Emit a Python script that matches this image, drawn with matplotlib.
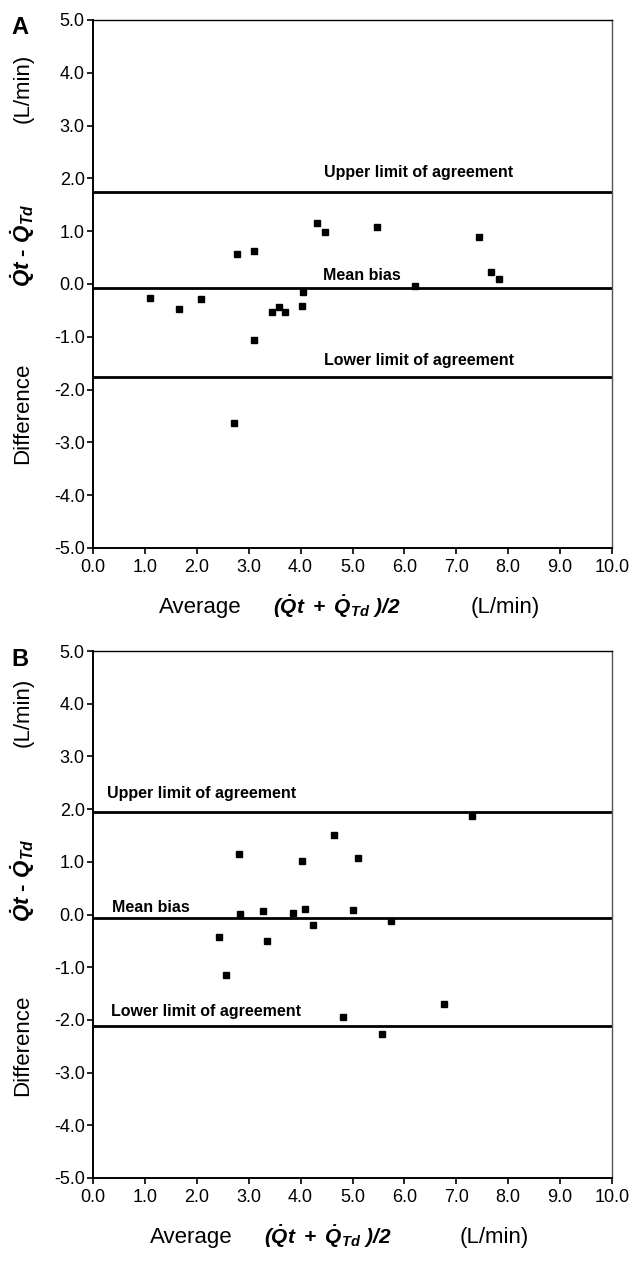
import matplotlib
matplotlib.use("Agg")
import matplotlib.pyplot as plt

plt.rcParams['font.family'] = ['Liberation Sans', 'DejaVu Sans']
plt.rcParams['mathtext.fontset'] = 'custom'
plt.rcParams['mathtext.bf'] = 'Liberation Sans:bold:italic'
plt.rcParams['mathtext.rm'] = 'Liberation Sans'
plt.rcParams['mathtext.it'] = 'Liberation Sans:italic'

# Panel A data (average vs difference, L/min)
a_avg = [1.10, 1.66, 2.09, 2.71, 2.77, 3.10, 3.11, 3.44, 3.59, 3.70,
         4.02, 4.04, 4.32, 4.47, 5.47, 6.21, 7.43, 7.66, 7.83]
a_diff = [-0.26, -0.47, -0.28, -2.63, 0.57, -1.06, 0.63, -0.53, -0.44, -0.53,
          -0.42, -0.15, 1.15, 0.98, 1.08, -0.03, 0.89, 0.23, 0.10]
a_upper, a_bias, a_lower = 1.74, -0.08, -1.76

# Panel B data
b_avg = [2.43, 2.56, 2.82, 2.84, 3.28, 3.35, 3.85, 4.02, 4.09, 4.23,
         4.65, 4.81, 5.00, 5.10, 5.57, 5.75, 6.76, 7.31]
b_diff = [-0.43, -1.15, 1.14, 0.01, 0.07, -0.50, 0.03, 1.02, 0.10, -0.20,
          1.51, -1.94, 0.08, 1.07, -2.26, -0.13, -1.69, 1.86]
b_upper, b_bias, b_lower = 1.95, -0.06, -2.12

ticks = [float(v) for v in range(-5, 6)]
xticks = [float(v) for v in range(0, 11)]

W, H = 629, 1270
fig = plt.figure(figsize=(W / 100, H / 100), dpi=100)


def px(x, y):
    # pixel position -> figure fraction
    return x / W, 1 - y / H


def panel(rect, avg, diff, upper, bias, lower, lab_x, offs, letter, lpos, ylab_y, xlab_y, xlab_x):
    ax = fig.add_axes(rect)
    ax.plot(avg, diff, 's', color='black', markersize=4.2, zorder=3, clip_on=False)
    for v in (upper, bias, lower):
        ax.axhline(v, color='black', linewidth=2.0, zorder=2)
    names = ['Upper limit of agreement', 'Mean bias', 'Lower limit of agreement']
    for name, v, lx, o in zip(names, (upper, bias, lower), lab_x, offs):
        ax.text(lx, v + o, name, fontsize=11.5, fontweight='bold', va='center', ha='left')
    ax.set_xlim(0, 10)
    ax.set_ylim(-5, 5)
    ax.set_xticks(xticks)
    ax.set_yticks(ticks)
    ax.set_xticklabels([f'{v:.1f}' for v in xticks])
    ax.set_yticklabels([f'{v:.1f}' for v in ticks])
    ax.tick_params(direction='out', length=4, width=1.2, labelsize=13, pad=2)
    ax.tick_params(axis='x', pad=4)
    for s in ('left', 'bottom'):
        ax.spines[s].set_linewidth(1.4)
    ax.spines['top'].set_linewidth(1.0)
    ax.spines['right'].set_linewidth(1.0)
    ax.spines['right'].set_color('#555555')

    fig.text(*px(*lpos), letter, fontsize=17, fontweight='bold', ha='center', va='center')
    # stacked y label
    fig.text(*px(23, ylab_y[0]), '(L/min)', fontsize=16, rotation=90, ha='center', va='center')
    fig.text(*px(23, ylab_y[1]), r'$\mathbf{\dot{Q}t}$ - $\mathbf{\dot{Q}_{Td}}$', fontsize=16,
             fontweight='bold', rotation=90, ha='center', va='center')
    fig.text(*px(23, ylab_y[2]), 'Difference', fontsize=16, rotation=90, ha='center', va='center')
    # x label
    fig.text(*px(xlab_x[0], xlab_y), 'Average', fontsize=16, ha='center', va='center')
    fig.text(*px(xlab_x[1], xlab_y), r'$\mathbf{(\dot{Q}t\ +\ \dot{Q}_{Td}\ )/2}$', fontsize=15,
             ha='center', va='center')
    fig.text(*px(xlab_x[2], xlab_y), '(L/min)', fontsize=16, ha='center', va='center')
    return ax


l0, b0 = px(93, 548)
panel([l0, b0, 519 / W, 528 / H], a_avg, a_diff, a_upper, a_bias, a_lower,
      (4.46, 4.44, 4.46), (0.38, 0.25, 0.32), 'A', (20, 28), (88, 245, 413), 607, (200, 337, 505))
l1, b1 = px(93, 1178)
panel([l1, b1, 519 / W, 527 / H], b_avg, b_diff, b_upper, b_bias, b_lower,
      (0.27, 0.37, 0.35), (0.34, 0.2, 0.28), 'B', (20, 660), (712, 880, 1045), 1237, (191, 328, 494))

fig.savefig('out.png', dpi=100)
